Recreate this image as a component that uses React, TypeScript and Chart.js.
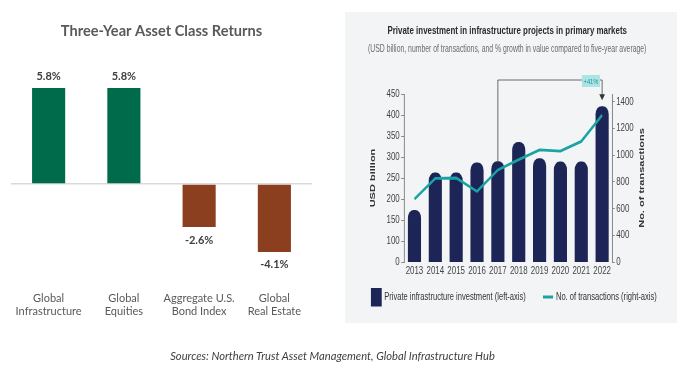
import React, { useEffect, useRef } from 'react';
import { Chart, registerables } from 'chart.js';

Chart.register(...registerables);

// ---------- Left chart data ----------
const assetClasses: string[][] = [
  ['Global', 'Infrastructure'],
  ['Global', 'Equities'],
  ['Aggregate U.S.', 'Bond Index'],
  ['Global', 'Real Estate'],
];
const threeYearReturns = [5.8, 5.8, -2.6, -4.1];
const returnColors = ['#006B4B', '#006B4B', '#8B3F1E', '#8B3F1E'];

// ---------- Right chart data ----------
const years = ['2013', '2014', '2015', '2016', '2017', '2018', '2019', '2020', '2021', '2022'];
const privateInvestment = [174, 263, 263, 287, 290, 336, 297, 289, 289, 421];
const transactions = [670, 826, 829, 728, 889, 967, 1040, 1030, 1103, 1300];
const leftAxisTicks = [50, 100, 150, 200, 250, 300, 350, 400, 450];
const rightAxisTicks = [200, 400, 600, 800, 1000, 1200, 1400];
const growthLabel = '+41%';
const growthFromIndex = 4;
const growthToIndex = 9;

const SOURCE_TEXT = 'Sources: Northern Trust Asset Management, Global Infrastructure Hub';

// right panel geometry (internal canvas drawn with horizontal compression)
const SX = 0.72;
const RW = 461;
const RH = 311;
const PANEL_BG = '#f2f4f6';
const NAVY = '#1D2556';
const TEAL = '#1AA3A5';
const RFONT = "'Liberation Sans', Arial, sans-serif";

function buildLeft() {
  const labelPlugin = {
    id: 'leftLabels',
    afterDatasetsDraw(chart: any) {
      const ctx = chart.ctx;
      const meta = chart.getDatasetMeta(0);
      ctx.save();
      ctx.font = 'bold 11px Lato';
      ctx.fillStyle = '#404040';
      ctx.textAlign = 'center';
      ctx.textBaseline = 'middle';
      meta.data.forEach((el: any, i: number) => {
        const v = threeYearReturns[i];
        const y = v >= 0 ? el.y - 12 : el.y + 13;
        ctx.fillText(v.toFixed(1) + '%', el.x, y);
      });
      ctx.restore();
    },
  };
  return {
    type: 'bar',
    data: {
      labels: assetClasses,
      datasets: [
        {
          data: threeYearReturns,
          backgroundColor: returnColors,
          barPercentage: 0.44,
          categoryPercentage: 1,
        },
      ],
    },
    options: {
      responsive: false,
      animation: false,
      layout: { padding: { left: 11, right: 28, top: 0, bottom: 0 } },
      plugins: {
        legend: { display: false },
        tooltip: { enabled: false },
        title: {
          display: true,
          text: 'Three-Year Asset Class Returns',
          color: '#595959',
          font: { family: 'Lato', size: 14.6, weight: 'bold' },
          padding: { top: 22.2, bottom: 20.3 },
        },
      },
      scales: {
        x: {
          grid: { display: false, drawTicks: false },
          border: { display: false },
          ticks: {
            color: '#595959',
            font: { family: 'Lato', size: 11, lineHeight: 1.22 },
            padding: 5.6,
            maxRotation: 0,
            autoSkip: false,
          },
          afterFit: (s: any) => {
            s.height = 87;
          },
        },
        y: {
          min: -6.16,
          max: 7.49,
          ticks: { display: false },
          border: { display: false },
          grid: {
            drawTicks: false,
            lineWidth: 1.5,
            color: (c: any) => (c.tick && c.tick.value === 0 ? '#d9d9d9' : 'rgba(0,0,0,0)'),
          },
          afterFit: (s: any) => {
            s.width = 0;
          },
        },
      },
    },
    plugins: [labelPlugin],
  };
}

function buildRight() {
  const decor = {
    id: 'rightDecor',
    beforeDraw(chart: any) {
      const ctx = chart.ctx;
      ctx.save();
      ctx.scale(SX, 1);
      ctx.fillStyle = PANEL_BG;
      ctx.fillRect(0, 0, chart.width, chart.height);
    },
    afterDatasetsDraw(chart: any) {
      const ctx = chart.ctx;
      const xs = chart.scales.x;
      const ys = chart.scales.y;
      const x0 = xs.getPixelForValue(growthFromIndex);
      const x1 = xs.getPixelForValue(growthToIndex);
      const yTop = chart.chartArea.top - 14;
      const yBar0 = ys.getPixelForValue(privateInvestment[growthFromIndex]);
      const yBar1 = ys.getPixelForValue(privateInvestment[growthToIndex]);
      ctx.save();
      ctx.strokeStyle = '#555';
      ctx.lineWidth = 1;
      ctx.beginPath();
      ctx.moveTo(x0, yBar0);
      ctx.lineTo(x0, yTop);
      ctx.lineTo(x1, yTop);
      ctx.lineTo(x1, yBar1 - 11);
      ctx.stroke();
      ctx.fillStyle = '#333';
      ctx.beginPath();
      ctx.moveTo(x1 - 4, yBar1 - 12);
      ctx.lineTo(x1 + 4, yBar1 - 12);
      ctx.lineTo(x1, yBar1 - 6);
      ctx.closePath();
      ctx.fill();
      // label box
      const bw = 25;
      const bh = 12;
      const bx = x1 - 3 - bw;
      const by = yTop - 5;
      ctx.fillStyle = '#ABE4E4';
      ctx.fillRect(bx, by, bw, bh);
      ctx.fillStyle = '#2F8F95';
      ctx.font = `8px ${RFONT}`;
      ctx.textAlign = 'center';
      ctx.textBaseline = 'middle';
      ctx.fillText(growthLabel, bx + bw / 2, by + bh / 2 + 0.5);
      ctx.restore();
    },
    afterDraw(chart: any) {
      const ctx = chart.ctx;
      const ca = chart.chartArea;
      // right axis title (reads bottom to top)
      ctx.save();
      ctx.translate(412, (ca.top + ca.bottom) / 2);
      ctx.rotate(-Math.PI / 2);
      ctx.font = `bold 11px ${RFONT}`;
      ctx.fillStyle = '#333';
      ctx.textAlign = 'center';
      ctx.textBaseline = 'middle';
      ctx.fillText('No. of transactions', 0, 0);
      ctx.restore();

      // legend
      const barDs = chart.data.datasets[0];
      const lineDs = chart.data.datasets[1];
      const ly = 285;
      ctx.save();
      ctx.fillStyle = barDs.backgroundColor;
      ctx.fillRect(36, ly - 9, 15, 18.5);
      ctx.font = `10.5px ${RFONT}`;
      ctx.fillStyle = '#333';
      ctx.textAlign = 'left';
      ctx.textBaseline = 'middle';
      ctx.fillText(barDs.label, 54.5, ly);
      ctx.strokeStyle = lineDs.borderColor;
      ctx.lineWidth = 3;
      ctx.beginPath();
      ctx.moveTo(275, ly);
      ctx.lineTo(289, ly);
      ctx.stroke();
      ctx.fillText(lineDs.label, 293, ly);
      ctx.restore();

      ctx.restore(); // matches beforeDraw save
    },
  };

  return {
    type: 'bar',
    data: {
      labels: years,
      datasets: [
        {
          type: 'bar',
          label: 'Private infrastructure investment (left-axis)',
          data: privateInvestment,
          yAxisID: 'y',
          backgroundColor: NAVY,
          barPercentage: 0.63,
          categoryPercentage: 1,
          borderRadius: 8,
          borderSkipped: 'start',
          order: 1,
        },
        {
          type: 'line',
          label: 'No. of transactions (right-axis)',
          data: transactions,
          yAxisID: 'y1',
          borderColor: TEAL,
          backgroundColor: TEAL,
          borderWidth: 2.8,
          pointRadius: 0,
          tension: 0,
          order: 0,
        },
      ],
    },
    options: {
      responsive: false,
      animation: false,
      layout: { padding: { left: 32, right: 42.4, top: 0, bottom: 45 } },
      plugins: {
        legend: { display: false },
        tooltip: { enabled: false },
        title: {
          display: true,
          text: 'Private investment in infrastructure projects in primary markets',
          color: '#2b2b2b',
          font: { family: RFONT, size: 11, weight: 'bold' },
          padding: { top: 12, bottom: 0 },
        },
        subtitle: {
          display: true,
          text: '(USD billion, number of transactions, and % growth in value compared to five-year average)',
          color: '#6b6b6b',
          font: { family: RFONT, size: 11 },
          padding: { top: 5.2, bottom: 38.4 },
        },
      },
      scales: {
        x: {
          grid: { display: false, drawTicks: false },
          border: { display: false },
          ticks: {
            color: '#444',
            font: { family: RFONT, size: 11 },
            padding: 2.4,
            maxRotation: 0,
            autoSkip: false,
          },
          afterFit: (s: any) => {
            s.height = 16;
          },
        },
        y: {
          position: 'left',
          min: leftAxisTicks[0],
          max: leftAxisTicks[leftAxisTicks.length - 1],
          afterBuildTicks: (s: any) => {
            s.ticks = leftAxisTicks.map((v) => ({ value: v }));
          },
          ticks: {
            color: '#444',
            font: { family: RFONT, size: 11 },
            padding: 2,
            callback: (v: any) => (v === leftAxisTicks[0] ? '0' : String(v)),
          },
          grid: { drawOnChartArea: false, drawTicks: true, tickLength: 4, color: '#777' },
          border: { display: true, color: '#777' },
          title: {
            display: true,
            text: 'USD billion',
            color: '#333',
            font: { family: RFONT, size: 11, weight: 'bold' },
            padding: 0,
          },
          afterFit: (s: any) => {
            s.width = 50;
          },
        },
        y1: {
          position: 'right',
          min: rightAxisTicks[0],
          max: 1458,
          afterBuildTicks: (s: any) => {
            s.ticks = rightAxisTicks.map((v) => ({ value: v }));
          },
          ticks: {
            color: '#444',
            font: { family: RFONT, size: 11 },
            padding: 2,
            callback: (v: any) => (v === rightAxisTicks[0] ? '0' : String(v)),
          },
          grid: { drawOnChartArea: false, drawTicks: true, tickLength: 3, color: '#777' },
          border: { display: true, color: '#777' },
          afterFit: (s: any) => {
            s.width = 47;
          },
        },
      },
    },
    plugins: [decor],
  };
}

export default function App() {
  const leftRef = useRef<HTMLCanvasElement>(null);
  const rightRef = useRef<HTMLCanvasElement>(null);

  useEffect(() => {
    const c1 = new Chart(leftRef.current as HTMLCanvasElement, buildLeft() as any);
    const c2 = new Chart(rightRef.current as HTMLCanvasElement, buildRight() as any);
    return () => {
      c1.destroy();
      c2.destroy();
    };
  }, []);

  return (
    <div
      style={{
        position: 'absolute',
        left: 0,
        top: 0,
        width: 700,
        height: 373,
        background: '#ffffff',
        overflow: 'hidden',
      }}
    >
      <canvas
        ref={leftRef}
        width={340}
        height={373}
        style={{ position: 'absolute', left: 0, top: 0, width: 340, height: 373 }}
      />
      <div style={{ position: 'absolute', left: 345, top: 12, width: 332, height: RH, overflow: 'hidden' }}>
        <canvas
          ref={rightRef}
          width={RW}
          height={RH}
          style={{ position: 'absolute', left: 0, top: 0, width: RW, height: RH }}
        />
      </div>
      <div
        style={{
          position: 'absolute',
          left: 0,
          top: 348.5,
          width: 665,
          textAlign: 'center',
          fontFamily: 'Lato, sans-serif',
          fontStyle: 'italic',
          fontSize: 11.2,
          lineHeight: '13px',
          color: '#404040',
        }}
      >
        {SOURCE_TEXT}
      </div>
    </div>
  );
}
